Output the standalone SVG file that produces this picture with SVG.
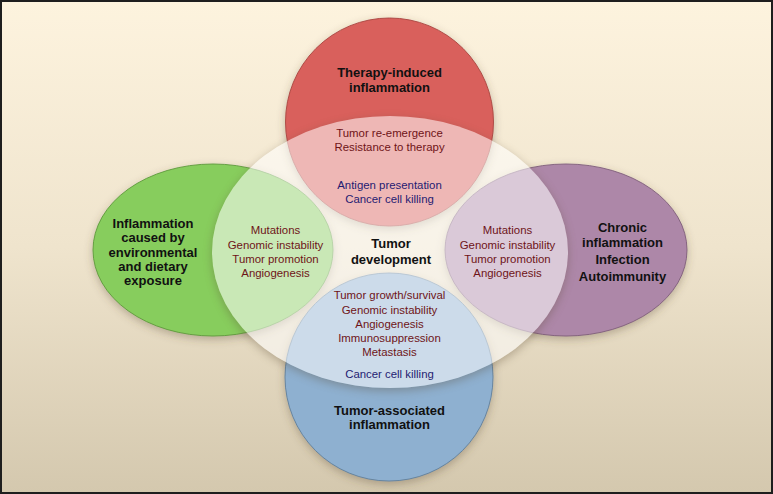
<svg xmlns="http://www.w3.org/2000/svg" width="773" height="494" viewBox="0 0 773 494">
<defs>
<linearGradient id="bg" x1="0" y1="0" x2="0" y2="1">
<stop offset="0" stop-color="#fdf3de"/>
<stop offset="0.5" stop-color="#efe4cd"/>
<stop offset="1" stop-color="#d4c8ae"/>
</linearGradient>
<filter id="sh" x="-20%" y="-20%" width="140%" height="140%">
<feDropShadow dx="0" dy="3" stdDeviation="4" flood-color="#5a4a30" flood-opacity="0.35"/>
</filter>
<filter id="blur" x="-20%" y="-20%" width="140%" height="140%">
<feGaussianBlur stdDeviation="5"/>
</filter>
<mask id="outEll">
<rect x="0" y="0" width="773" height="494" fill="#fff"/>
<ellipse cx="390" cy="252" rx="178" ry="136" fill="#000"/>
</mask>
</defs>
<style>
text{font-family:"Liberation Sans",Arial,Helvetica,sans-serif;text-anchor:middle}
.t{font-weight:bold;font-size:13px;fill:#111}
.b{font-size:11.4px;fill:#6e1418}
.k{font-size:11.4px;fill:#1f1b72}
.c{stroke-width:0.9}
</style>
<rect x="1" y="1" width="771" height="492" fill="url(#bg)" stroke="#1e1e1e" stroke-width="2"/>
<g id="connectors"/>
<g id="node-therapy">
<circle class="c" cx="389.5" cy="122" r="104" fill="#d9605b" stroke="#a9443f" filter="url(#sh)"/>
</g>
<g id="node-environmental">
<ellipse class="c" cx="213" cy="250" rx="120" ry="86" fill="#87cd5d" stroke="#5d9a3b" filter="url(#sh)"/>
</g>
<g id="node-chronic">
<ellipse class="c" cx="566" cy="250" rx="121" ry="86" fill="#ad87a8" stroke="#7f5d7a" filter="url(#sh)"/>
</g>
<g id="node-associated">
<circle class="c" cx="389" cy="377" r="104" fill="#8eb0d0" stroke="#5f7f9c" filter="url(#sh)"/>
</g>
<g id="node-tumor-development">
<ellipse cx="390" cy="255" rx="178" ry="136" fill="#5a4a30" opacity="0.35" filter="url(#blur)" mask="url(#outEll)"/>
<ellipse cx="390" cy="252" rx="178" ry="136" fill="#ffffff" fill-opacity="0.55"/>
<text class="t" x="391" y="248">Tumor</text>
<text class="t" x="391" y="264">development</text>
</g>
<g id="labels-therapy">
<text class="t" x="389.5" y="77">Therapy-induced</text>
<text class="t" x="389.5" y="92">inflammation</text>
<text class="b" x="389.5" y="137">Tumor re-emergence</text>
<text class="b" x="389.5" y="151">Resistance to therapy</text>
<text class="k" x="389.5" y="189">Antigen presentation</text>
<text class="k" x="389.5" y="203">Cancer cell killing</text>
</g>
<g id="labels-environmental">
<text class="t" x="153" y="228">Inflammation</text>
<text class="t" x="153" y="242">caused by</text>
<text class="t" x="153" y="257">environmental</text>
<text class="t" x="153" y="271">and dietary</text>
<text class="t" x="153" y="285">exposure</text>
<text class="b" x="275.5" y="234">Mutations</text>
<text class="b" x="275.5" y="249">Genomic instability</text>
<text class="b" x="275.5" y="263">Tumor promotion</text>
<text class="b" x="275.5" y="277">Angiogenesis</text>
</g>
<g id="labels-chronic">
<text class="t" x="622.5" y="232">Chronic</text>
<text class="t" x="622.5" y="247">inflammation</text>
<text class="t" x="622.5" y="264">Infection</text>
<text class="t" x="622.5" y="281">Autoimmunity</text>
<text class="b" x="507.5" y="234">Mutations</text>
<text class="b" x="507.5" y="249">Genomic instability</text>
<text class="b" x="507.5" y="263">Tumor promotion</text>
<text class="b" x="507.5" y="277">Angiogenesis</text>
</g>
<g id="labels-associated">
<text class="b" x="389.5" y="299">Tumor growth/survival</text>
<text class="b" x="389.5" y="314">Genomic instability</text>
<text class="b" x="389.5" y="328">Angiogenesis</text>
<text class="b" x="389.5" y="342">Immunosuppression</text>
<text class="b" x="389.5" y="356">Metastasis</text>
<text class="k" x="389.5" y="378">Cancer cell killing</text>
<text class="t" x="389.5" y="415">Tumor-associated</text>
<text class="t" x="389.5" y="429">inflammation</text>
</g>
</svg>
